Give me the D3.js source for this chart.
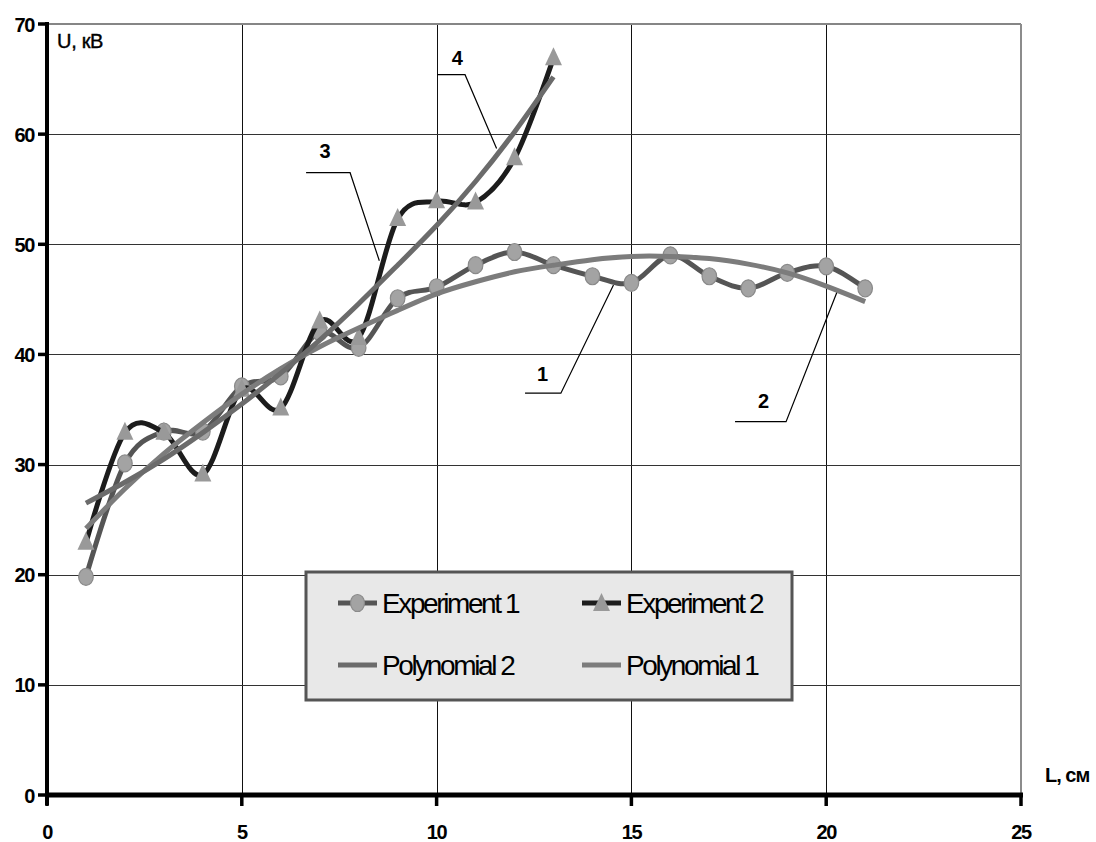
<!DOCTYPE html>
<html>
<head>
<meta charset="utf-8">
<script src="https://cdn.jsdelivr.net/npm/d3@7"></script>
<style>
  body { margin: 0; background: #ffffff; }
  svg text { font-family: "Liberation Sans", Arial, sans-serif; fill: #000; }
</style>
</head>
<body>
<script>
// L, cm
const lengths1 = [1, 2, 3, 4, 5, 6, 7, 8, 9, 10, 11, 12, 13, 14, 15, 16, 17, 18, 19, 20, 21];
const lengths2 = [1, 2, 3, 4, 5, 6, 7, 8, 9, 10, 11, 12, 13];

// U, kV
const exp1Values = [19.8, 30.1, 33.0, 33.0, 37.1, 38.0, 42.0, 40.6, 45.1, 46.1, 48.1, 49.3, 48.1, 47.1, 46.5, 49.0, 47.1, 46.0, 47.4, 48.0, 46.0];
const exp2Values = [22.9, 32.9, 32.9, 29.1, 36.8, 35.1, 43.0, 41.5, 52.3, 53.9, 53.8, 57.8, 66.9];
const poly1Values = [24.2, 27.8, 31.0, 33.8, 36.4, 38.7, 40.7, 42.4, 44.0, 45.5, 46.6, 47.5, 48.1, 48.6, 48.9, 48.9, 48.7, 48.2, 47.4, 46.2, 44.8];
const poly2Values = [26.5, 28.4, 30.5, 32.9, 35.5, 38.3, 41.3, 44.6, 48.1, 51.7, 55.7, 60.2, 65.2];

const xTicks = [0, 5, 10, 15, 20, 25];
const yTicks = [0, 10, 20, 30, 40, 50, 60, 70];
const legendLabels = ["Experiment 1", "Experiment 2", "Polynomial 2", "Polynomial 1"];

// numbered callouts, in data units
const calloutLabels = ["1", "2", "3", "4"];
const calloutTextAt = [[12.72, 38.2], [18.39, 35.8], [7.14, 58.5], [10.53, 66.9]];
const calloutPaths = [
    [[12.27, 36.48], [13.19, 36.48], [14.54, 46.3]],
    [[17.66, 33.9], [18.97, 33.9], [20.27, 45.6]],
    [[6.65, 56.5], [7.78, 56.5], [8.53, 48.5]],
    [[10.02, 65.4], [10.73, 65.4], [11.54, 58.7]]
];

class LengthVoltageChart {
    constructor() {
        this.width = 1096;
        this.height = 842;
        this.setupScales();
        this.svg = d3.select("body").append("svg")
            .attr("width", this.width)
            .attr("height", this.height);
        this.drawGrid();
        this.drawSeries();
        this.drawAxes();
        this.drawCallouts();
        this.drawLegend();
    }

    setupScales() {
        this.x = d3.scaleLinear().domain([0, 25]).range([47, 1021]);
        this.y = d3.scaleLinear().domain([0, 70]).range([795, 24]);
    }

    drawGrid() {
        const g = this.svg.append("g");
        const px = v => Math.round(this.x(v)) + 0.5;
        const py = v => Math.round(this.y(v)) + 0.5;

        g.selectAll(".vgrid").data(xTicks.slice(1, -1)).join("line")
            .attr("x1", px).attr("x2", px)
            .attr("y1", this.y(70)).attr("y2", this.y(0))
            .attr("stroke", "#111").attr("stroke-width", 1);

        g.selectAll(".hgrid").data(yTicks.slice(1, -1)).join("line")
            .attr("x1", this.x(0)).attr("x2", this.x(25))
            .attr("y1", py).attr("y2", py)
            .attr("stroke", "#333").attr("stroke-width", 1);

        // frame on top and right is grey
        g.append("line")
            .attr("x1", this.x(0)).attr("x2", this.x(25))
            .attr("y1", this.y(70)).attr("y2", this.y(70))
            .attr("stroke", "#868686").attr("stroke-width", 2);
        g.append("line")
            .attr("x1", this.x(25)).attr("x2", this.x(25))
            .attr("y1", this.y(70)).attr("y2", this.y(0))
            .attr("stroke", "#8c8c8c").attr("stroke-width", 2);
    }

    drawSeries() {
        const smooth = d3.line()
            .x(d => this.x(d[0]))
            .y(d => this.y(d[1]))
            .curve(d3.curveCatmullRom.alpha(0));
        const trend = d3.line()
            .x(d => this.x(d[0]))
            .y(d => this.y(d[1]))
            .curve(d3.curveNatural);

        const pts1 = d3.zip(lengths1, exp1Values);
        const pts2 = d3.zip(lengths2, exp2Values);

        this.svg.append("path").attr("d", smooth(pts1))
            .attr("fill", "none").attr("stroke", "#555").attr("stroke-width", 5);
        this.svg.selectAll(".m1").data(pts1).join("ellipse")
            .attr("cx", d => this.x(d[0])).attr("cy", d => this.y(d[1]))
            .attr("rx", 7.3).attr("ry", 8.5)
            .attr("fill", "#a3a3a3").attr("stroke", "#8a8a8a").attr("stroke-width", 1.2);

        this.svg.append("path").attr("d", smooth(pts2))
            .attr("fill", "none").attr("stroke", "#1c1c1c").attr("stroke-width", 5);
        this.svg.selectAll(".m2").data(pts2).join("path")
            .attr("d", this.triangle(0, 0))
            .attr("transform", d => `translate(${this.x(d[0])},${this.y(d[1])})`)
            .attr("fill", "#999");

        this.svg.append("path").attr("d", trend(d3.zip(lengths1, poly1Values)))
            .attr("fill", "none").attr("stroke", "#7c7c7c").attr("stroke-width", 5);
        this.svg.append("path").attr("d", trend(d3.zip(lengths2, poly2Values)))
            .attr("fill", "none").attr("stroke", "#6b6b6b").attr("stroke-width", 5);
    }

    triangle(cx, cy) {
        return `M${cx},${cy - 11}L${cx + 8.5},${cy + 7}L${cx - 8.5},${cy + 7}Z`;
    }

    drawAxes() {
        const g = this.svg.append("g");
        g.append("line")
            .attr("x1", this.x(0)).attr("x2", this.x(0))
            .attr("y1", this.y(70) - 2).attr("y2", this.y(0) + 10)
            .attr("stroke", "#000").attr("stroke-width", 4);
        g.append("line")
            .attr("x1", this.x(0)).attr("x2", this.x(25) + 2)
            .attr("y1", this.y(0)).attr("y2", this.y(0))
            .attr("stroke", "#000").attr("stroke-width", 5);

        g.selectAll(".yt").data(yTicks).join("line")
            .attr("x1", this.x(0) - 9).attr("x2", this.x(0))
            .attr("y1", d => this.y(d)).attr("y2", d => this.y(d))
            .attr("stroke", "#000").attr("stroke-width", 3.5);
        g.selectAll(".xt").data(xTicks).join("line")
            .attr("x1", d => this.x(d)).attr("x2", d => this.x(d))
            .attr("y1", this.y(0)).attr("y2", this.y(0) + 11)
            .attr("stroke", "#000").attr("stroke-width", 3.5);

        g.selectAll(".yl").data(yTicks).join("text")
            .attr("x", this.x(0) - 13).attr("y", d => this.y(d) + 7.5)
            .attr("text-anchor", "end")
            .style("font-size", "20px").style("font-weight", "bold")
            .style("letter-spacing", "-1.4px")
            .text(d => d);
        g.selectAll(".xl").data(xTicks).join("text")
            .attr("x", d => this.x(d)).attr("y", 839)
            .attr("text-anchor", "middle")
            .style("font-size", "20px").style("font-weight", "bold")
            .style("letter-spacing", "-1.4px")
            .text(d => d);

        g.append("text").attr("x", 57).attr("y", 48)
            .style("font-size", "20px").style("letter-spacing", "-0.3px")
            .style("stroke", "#000").style("stroke-width", 0.4)
            .text("U, кВ");
        g.append("text").attr("x", 1045).attr("y", 782)
            .style("font-size", "20px").style("font-weight", "bold")
            .style("letter-spacing", "-1px")
            .text("L, см");
    }

    drawCallouts() {
        const line = d3.line().x(d => this.x(d[0])).y(d => this.y(d[1]));
        this.svg.selectAll(".cl").data(calloutPaths).join("path")
            .attr("d", line)
            .attr("fill", "none").attr("stroke", "#000").attr("stroke-width", 1.2);
        this.svg.selectAll(".ct").data(calloutLabels).join("text")
            .attr("x", (d, i) => this.x(calloutTextAt[i][0]))
            .attr("y", (d, i) => this.y(calloutTextAt[i][1]) + 7)
            .attr("text-anchor", "middle")
            .style("font-size", "20px").style("font-weight", "bold")
            .text(d => d);
    }

    drawLegend() {
        const g = this.svg.append("g").attr("transform", "translate(306,572)");
        g.append("rect")
            .attr("width", 486).attr("height", 128)
            .attr("fill", "#e8e8e8").attr("stroke", "#555").attr("stroke-width", 3);

        const colX = [32, 276];
        const rowY = [31, 93];
        const styles = [
            { stroke: "#555", marker: "circle" },
            { stroke: "#1c1c1c", marker: "triangle" },
            { stroke: "#6b6b6b", marker: null },
            { stroke: "#7c7c7c", marker: null }
        ];

        legendLabels.forEach((label, i) => {
            const cx = colX[i % 2];
            const cy = rowY[Math.floor(i / 2)];
            const s = styles[i];
            g.append("line")
                .attr("x1", cx).attr("x2", cx + 39)
                .attr("y1", cy).attr("y2", cy)
                .attr("stroke", s.stroke).attr("stroke-width", 5);
            if (s.marker === "circle") {
                g.append("ellipse").attr("cx", cx + 19.5).attr("cy", cy)
                    .attr("rx", 7).attr("ry", 8.5)
                    .attr("fill", "#a3a3a3").attr("stroke", "#8a8a8a").attr("stroke-width", 1.2);
            } else if (s.marker === "triangle") {
                g.append("path").attr("d", this.triangle(cx + 19.5, cy + 1)).attr("fill", "#999");
            }
            g.append("text")
                .attr("x", cx + 44).attr("y", cy + 10)
                .style("font-size", "28px").style("letter-spacing", "-2.4px")
                .text(label);
        });
    }
}

new LengthVoltageChart();
</script>
</body>
</html>
